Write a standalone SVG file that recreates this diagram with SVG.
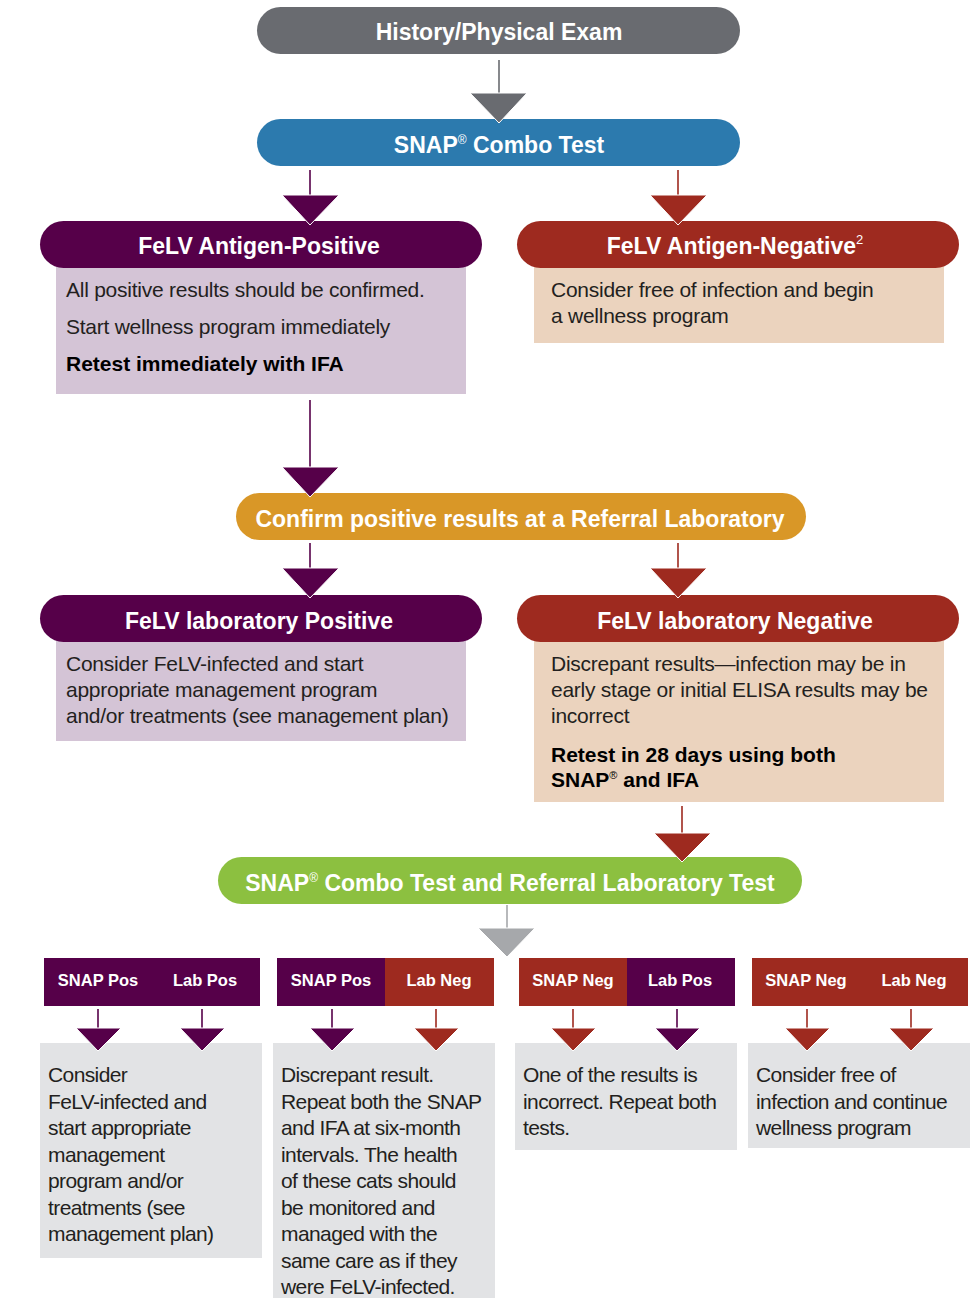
<svg xmlns="http://www.w3.org/2000/svg" width="978" height="1298" viewBox="0 0 978 1298">
<style>
text{font-family:"Liberation Sans",Arial,Helvetica,sans-serif}
.t{font-size:23px;font-weight:bold;fill:#fff;text-anchor:middle}
.b{font-size:21px;fill:#231f20;letter-spacing:-0.25px}
.bb{font-size:21px;font-weight:bold;fill:#000}
.s{font-size:21px;fill:#231f20;letter-spacing:-0.6px}
.h{font-size:16.5px;font-weight:bold;fill:#fff;text-anchor:middle}
.pu{fill:#560049}
.rd{fill:#9e2a1f}
.lp{stroke:#560049;stroke-width:1.6}
.lr{stroke:#9e2a1f;stroke-width:1.6}
.tri{stroke:#fff;stroke-width:1}
</style>
<g id="history"><rect x="257" y="7" width="483" height="47" rx="23.5" fill="#696b70"/><text class="t" x="499" y="40">History/Physical Exam</text></g>
<g id="snap"><rect x="257" y="119" width="483" height="47" rx="23.5" fill="#2c7aae"/><text class="t" x="499" y="153">SNAP<tspan font-size="12" font-weight="normal" dy="-9">®</tspan><tspan dy="9"> Combo Test</tspan></text></g>
<g id="agpos"><rect x="56" y="262" width="410" height="132" fill="#d4c4d6"/><rect x="40" y="221" width="442" height="47" rx="23.5" class="pu"/><text class="t" x="259" y="254">FeLV Antigen-Positive</text>
<text class="b" x="66" y="297">All positive results should be confirmed.</text>
<text class="b" x="66" y="334">Start wellness program immediately</text>
<text class="bb" x="66" y="371">Retest immediately with IFA</text></g>
<g id="agneg"><rect x="534" y="262" width="410" height="81" fill="#ebd3be"/><rect x="517" y="221" width="442" height="47" rx="23.5" class="rd"/><text class="t" x="735" y="254">FeLV Antigen-Negative<tspan font-size="13" font-weight="normal" dy="-10">2</tspan></text>
<text class="b" x="551" y="297">Consider free of infection and begin</text>
<text class="b" x="551" y="323">a wellness program</text></g>
<g id="confirm"><rect x="236" y="493" width="570" height="47" rx="23.5" fill="#d99727"/><text class="t" x="520" y="527">Confirm positive results at a Referral Laboratory</text></g>
<g id="labpos"><rect x="56" y="636" width="410" height="105" fill="#d4c4d6"/><rect x="40" y="595" width="442" height="47" rx="23.5" class="pu"/><text class="t" x="259" y="629">FeLV laboratory Positive</text>
<text class="b" x="66" y="671">Consider FeLV-infected and start</text>
<text class="b" x="66" y="697">appropriate management program</text>
<text class="b" x="66" y="723">and/or treatments (see management plan)</text></g>
<g id="labneg"><rect x="534" y="636" width="410" height="166" fill="#ebd3be"/><rect x="517" y="595" width="442" height="47" rx="23.5" class="rd"/><text class="t" x="735" y="629">FeLV laboratory Negative</text>
<text class="b" x="551" y="671">Discrepant results—infection may be in</text>
<text class="b" x="551" y="697">early stage or initial ELISA results may be</text>
<text class="b" x="551" y="723">incorrect</text>
<text class="bb" x="551" y="762">Retest in 28 days using both</text>
<text class="bb" x="551" y="787">SNAP<tspan font-size="11" font-weight="normal" dy="-8">®</tspan><tspan dy="8"> and IFA</tspan></text></g>
<g id="combo2"><rect x="218" y="857" width="584" height="47" rx="23.5" fill="#8cc040"/><text class="t" x="510" y="891">SNAP<tspan font-size="12" font-weight="normal" dy="-9">®</tspan><tspan dy="9"> Combo Test and Referral Laboratory Test</tspan></text></g>
<g id="r1"><rect x="44" y="958" width="216" height="48" class="pu"/><text class="h" x="98" y="986">SNAP Pos</text><text class="h" x="205" y="986">Lab Pos</text>
<rect x="40" y="1043" width="222" height="215" fill="#e2e3e5"/>
<text class="s" x="48" y="1082">Consider</text><text class="s" x="48" y="1108.5">FeLV-infected and</text><text class="s" x="48" y="1135">start appropriate</text><text class="s" x="48" y="1161.5">management</text><text class="s" x="48" y="1188">program and/or</text><text class="s" x="48" y="1214.5">treatments (see</text><text class="s" x="48" y="1241">management plan)</text></g>
<g id="r2"><rect x="277" y="958" width="108" height="48" class="pu"/><rect x="385" y="958" width="109" height="48" class="rd"/><text class="h" x="331" y="986">SNAP Pos</text><text class="h" x="439" y="986">Lab Neg</text>
<rect x="273" y="1043" width="222" height="260" fill="#e2e3e5"/>
<text class="s" x="281" y="1082">Discrepant result.</text><text class="s" x="281" y="1108.5">Repeat both the SNAP</text><text class="s" x="281" y="1135">and IFA at six-month</text><text class="s" x="281" y="1161.5">intervals. The health</text><text class="s" x="281" y="1188">of these cats should</text><text class="s" x="281" y="1214.5">be monitored and</text><text class="s" x="281" y="1241">managed with the</text><text class="s" x="281" y="1267.5">same care as if they</text><text class="s" x="281" y="1294">were FeLV-infected.</text></g>
<g id="r3"><rect x="519" y="958" width="108" height="48" class="rd"/><rect x="627" y="958" width="108" height="48" class="pu"/><text class="h" x="573" y="986">SNAP Neg</text><text class="h" x="680" y="986">Lab Pos</text>
<rect x="515" y="1043" width="222" height="107" fill="#e2e3e5"/>
<text class="s" x="523" y="1082">One of the results is</text><text class="s" x="523" y="1108.5">incorrect. Repeat both</text><text class="s" x="523" y="1135">tests.</text></g>
<g id="r4"><rect x="752" y="958" width="216" height="48" class="rd"/><text class="h" x="806" y="986">SNAP Neg</text><text class="h" x="914" y="986">Lab Neg</text>
<rect x="748" y="1043" width="222" height="105" fill="#e2e3e5"/>
<text class="s" x="756" y="1082">Consider free of</text><text class="s" x="756" y="1108.5">infection and continue</text><text class="s" x="756" y="1135">wellness program</text></g>
<g id="connectors">
<line x1="499" y1="60" x2="499" y2="94" stroke="#696b70" stroke-width="1.6"/><polygon class="tri" points="470,93 527,93 499,123" fill="#696b70"/>
<line x1="310" y1="170" x2="310" y2="196" class="lp"/><polygon class="tri pu" points="282,195 339,195 310,225"/>
<line x1="678" y1="170" x2="678" y2="196" class="lr"/><polygon class="tri rd" points="650,195 707,195 678,225"/>
<line x1="310" y1="400" x2="310" y2="468" class="lp"/><polygon class="tri pu" points="282,467 339,467 310,497"/>
<line x1="310" y1="543" x2="310" y2="569" class="lp"/><polygon class="tri pu" points="282,568 339,568 310,598"/>
<line x1="678" y1="543" x2="678" y2="569" class="lr"/><polygon class="tri rd" points="650,568 707,568 678,598"/>
<line x1="682" y1="806" x2="682" y2="834" class="lr"/><polygon class="tri rd" points="654,833 711,833 682,862"/>
<line x1="507" y1="905" x2="507" y2="929" stroke="#a6a8ab" stroke-width="1.6"/><polygon class="tri" points="478,928 535,928 507,957" fill="#a6a8ab"/>
<line x1="98" y1="1009" x2="98" y2="1029" class="lp"/><polygon class="tri pu" points="76,1028 121,1028 98,1051"/>
<line x1="202" y1="1009" x2="202" y2="1029" class="lp"/><polygon class="tri pu" points="180,1028 225,1028 202,1051"/>
<line x1="332" y1="1009" x2="332" y2="1029" class="lp"/><polygon class="tri pu" points="310,1028 355,1028 332,1051"/>
<line x1="436" y1="1009" x2="436" y2="1029" class="lr"/><polygon class="tri rd" points="414,1028 459,1028 436,1051"/>
<line x1="573" y1="1009" x2="573" y2="1029" class="lr"/><polygon class="tri rd" points="551,1028 596,1028 573,1051"/>
<line x1="677" y1="1009" x2="677" y2="1029" class="lp"/><polygon class="tri pu" points="655,1028 700,1028 677,1051"/>
<line x1="807" y1="1009" x2="807" y2="1029" class="lr"/><polygon class="tri rd" points="785,1028 830,1028 807,1051"/>
<line x1="911" y1="1009" x2="911" y2="1029" class="lr"/><polygon class="tri rd" points="889,1028 934,1028 911,1051"/>
</g>
</svg>
